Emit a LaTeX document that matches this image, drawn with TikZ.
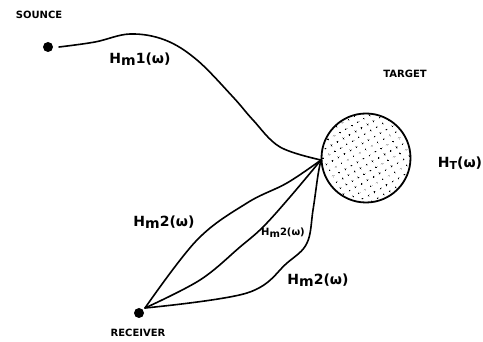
\documentclass[tikz,border=0pt]{standalone}
\usepackage{fontspec}
\setmainfont{DejaVu Sans}
\usetikzlibrary{patterns.meta}
\begin{document}
\begin{tikzpicture}[x=1pt,y=-1pt,
  wire/.style={line width=1.6pt, line cap=round, line join=round},
  dotnode/.style={circle, fill=black, inner sep=0pt, minimum size=10pt},
  lab/.style={font=\bfseries\fontsize{14}{16}\selectfont, inner sep=0pt},
  captext/.style={font=\bfseries\fontsize{10}{11}\selectfont, inner sep=0pt}]
\useasboundingbox (0,0) rectangle (483,342);
\node[dotnode] (src) at (48,47) {};
\node[dotnode] (rcv) at (139,313) {};
\node[circle, draw, line width=1.8pt, minimum size=89pt, inner sep=0pt,
  pattern={Dots[radius=0.9pt, distance=6.5pt, angle=30]}] (tgt) at (366,158) {};
\coordinate (J) at (321,160);
\coordinate (R) at (145,308);
\node[captext] (lsrc) at (39,15) {SOUNCE};
\node[captext] (ltgt) at (405,74) {TARGET};
\node[captext] (lrcv) at (138,333) {RECEIVER};
\node[lab] (h1) at (140,59) {H\raisebox{-0.3ex}{m}1(ω)};
\node[lab] (ht) at (460,163) {H\raisebox{-0.3ex}{\fontsize{11}{12}\selectfont T}(ω)};
\node[lab] (h2a) at (164,222) {H\raisebox{-0.3ex}{m}2(ω)};
\node[lab, font=\bfseries\fontsize{10}{12}\selectfont] (h2b) at (283,233) {H\raisebox{-0.3ex}{m}2(ω)};
\node[lab] (h2c) at (318,280) {H\raisebox{-0.3ex}{m}2(ω)};
\draw[wire] plot[smooth, tension=0.6] coordinates {(59,47) (95,42) (130,34) (165,40) (197,60) (233,97) (253,120) (280,147) (J)};
\draw[wire] plot[smooth, tension=0.6] coordinates {(R) (197,240) (247,203) (287,183) (J)};
\draw[wire] plot[smooth, tension=0.6] coordinates {(R) (200,280) (240,247) (263,227) (290,197) (J)};
\draw[wire] plot[smooth, tension=0.6] coordinates {(R) (247,293) (287,263) (307,243) (313,210) (318,175) (J)};
\end{tikzpicture}
\end{document}
